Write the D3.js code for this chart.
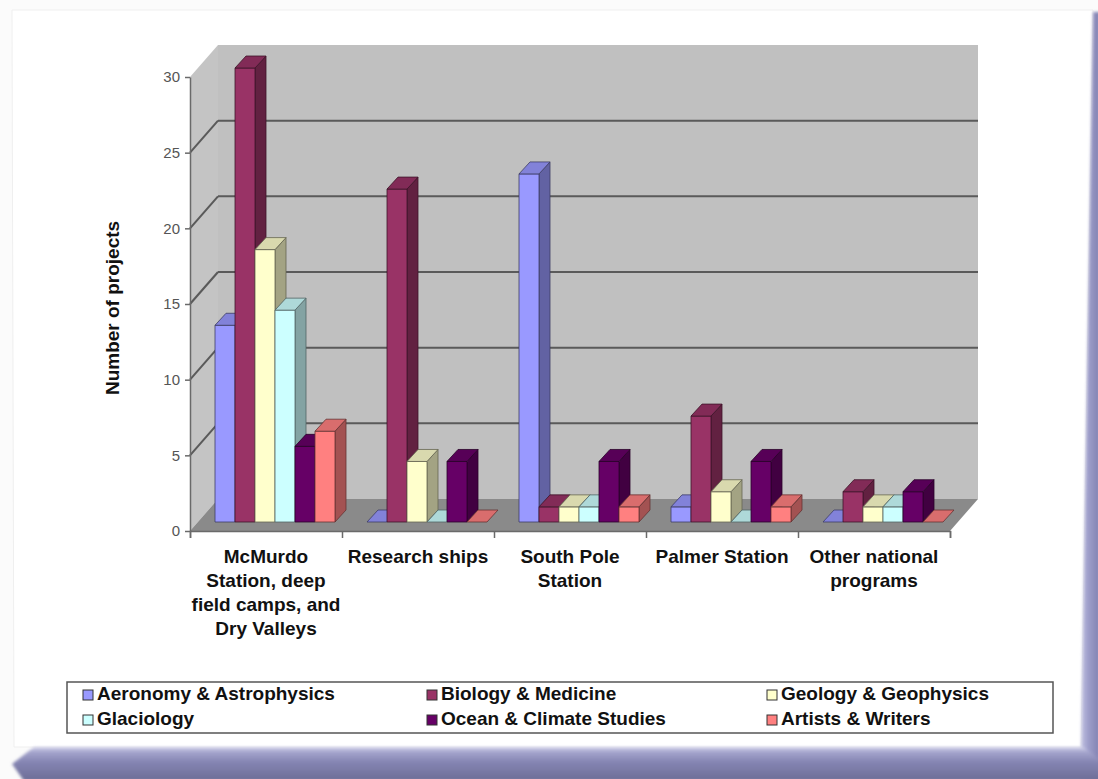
<!DOCTYPE html>
<html>
<head>
<meta charset="utf-8">
<script src="https://cdn.jsdelivr.net/npm/d3@7"></script>
<style>
  html, body { margin: 0; padding: 0; background: #ffffff; }
  svg { display: block; font-family: "Liberation Sans", Arial, sans-serif; }
</style>
</head>
<body>
<svg id="chart" width="1098" height="779"></svg>
<script>
// ---- data -------------------------------------------------------------
const categories = [
  ["McMurdo", "Station, deep", "field camps, and", "Dry Valleys"],
  ["Research ships"],
  ["South Pole", "Station"],
  ["Palmer Station"],
  ["Other national", "programs"]
];
const categoryKeys = ["McMurdo", "Research ships", "South Pole", "Palmer", "Other"];

const seriesNames = [
  "Aeronomy & Astrophysics",
  "Biology & Medicine",
  "Geology & Geophysics",
  "Glaciology",
  "Ocean & Climate Studies",
  "Artists & Writers"
];
const seriesColors = ["#9999FF", "#993366", "#FFFFCC", "#CCFFFF", "#660066", "#FF8080"];

const aeronomy   = [13, 0, 23, 1, 0];
const biology    = [30, 22, 1, 7, 2];
const geology    = [18, 4, 1, 2, 1];
const glaciology = [14, 0, 1, 0, 1];
const ocean      = [5, 4, 4, 4, 2];
const artists    = [6, 0, 1, 1, 0];
const seriesValues = [aeronomy, biology, geology, glaciology, ocean, artists];

const yTicks = [0, 5, 10, 15, 20, 25, 30];

// ---- layout -----------------------------------------------------------
const svg = d3.select("#chart");
const X0 = 190, X1 = 950, Y0 = 531, YT = 77;
const DX = 28, DY = -32;          // depth of the 3-D box
const FX = 8, FY = -9;            // bar front plane offset
const BDX = 11, BDY = -12;        // bar depth
const BAR_W = 20;
const FONT = 19;

const x = d3.scaleBand().domain(categoryKeys).range([X0, X1]).padding(0);
const inner = d3.scaleBand().domain(seriesNames).range([17, 17 + 6 * BAR_W]).padding(0);
const y = d3.scaleLinear().domain([0, 30]).range([Y0, YT]);

const defs = svg.append("defs");

// ---- card & shadow ----------------------------------------------------
const gB = defs.append("linearGradient").attr("id", "shB").attr("x1", 0).attr("y1", 0).attr("x2", 0).attr("y2", 1);
[[0, "#d4d4ec"], [0.15, "#a4a4cc"], [0.45, "#8484b2"], [1, "#6c6c96"]].forEach(([o, c]) =>
  gB.append("stop").attr("offset", o).attr("stop-color", c));
const gR = defs.append("linearGradient").attr("id", "shR").attr("x1", 0).attr("y1", 0).attr("x2", 1).attr("y2", 0);
[[0, "#d0d0ea"], [0.4, "#a0a0cc"], [1, "#8080b0"]].forEach(([o, c]) =>
  gR.append("stop").attr("offset", o).attr("stop-color", c));
defs.append("filter").attr("id", "soft").attr("x", "-5%").attr("y", "-20%").attr("width", "110%").attr("height", "140%")
  .append("feGaussianBlur").attr("stdDeviation", 1.4);

svg.append("rect").attr("x", 0).attr("y", 0).attr("width", 1098).attr("height", 779).attr("fill", "#fbfbfb");
svg.append("path").attr("d", "M12,10 L1093,10 L1081,747 L14,747 Z")
  .attr("fill", "#ffffff").attr("stroke", "#efefef").attr("stroke-width", 1);
svg.append("path").attr("d", "M1093,12 L1100,12 L1100,781 L1079,781 L1081,747 Z")
  .attr("fill", "url(#shR)").attr("filter", "url(#soft)");
svg.append("path").attr("d", "M34,747 L1083,747 L1100,760 L1100,781 L24,781 L12,764 Z")
  .attr("fill", "url(#shB)").attr("filter", "url(#soft)");

// ---- walls and floor --------------------------------------------------
const plot = svg.append("g");
plot.append("rect")
  .attr("x", X0 + DX).attr("y", y(30) + DY)
  .attr("width", X1 - X0).attr("height", y(0) - y(30))
  .attr("fill", "#c0c0c0");
plot.append("polygon")
  .attr("points", [[X0, y(30)], [X0 + DX, y(30) + DY], [X0 + DX, y(0) + DY], [X0, y(0)]].join(" "))
  .attr("fill", "#c4c4c4");
plot.append("polygon")
  .attr("points", [[X0, y(0)], [X1, y(0)], [X1 + DX, y(0) + DY], [X0 + DX, y(0) + DY]].join(" "))
  .attr("fill", "#8a8a8a");

const gridVals = yTicks.filter(v => v > 0 && v < 30);
plot.selectAll("line.gb").data(gridVals).join("line")
  .attr("x1", X0 + DX).attr("x2", X1 + DX)
  .attr("y1", d => y(d) + DY).attr("y2", d => y(d) + DY)
  .attr("stroke", "#5a5a5a").attr("stroke-width", 2);
plot.selectAll("line.gs").data(gridVals).join("line")
  .attr("x1", X0).attr("x2", X0 + DX)
  .attr("y1", d => y(d)).attr("y2", d => y(d) + DY)
  .attr("stroke", "#5a5a5a").attr("stroke-width", 2);

// ---- bars -------------------------------------------------------------
const bars = [];
categoryKeys.forEach((c, i) => {
  seriesNames.forEach((s, j) => bars.push({ c, s, j, v: seriesValues[j][i] }));
});

const barG = plot.append("g");
bars.forEach(d => {
  const col = d3.color(seriesColors[d.j]);
  const top = col.darker(0.45).formatHex();
  const side = col.darker(1.25).formatHex();
  const edge = col.darker(2.6).formatHex();
  const bx = x(d.c) + inner(d.s) + FX;
  const by0 = y(0) + FY;
  const byt = y(d.v) + FY;
  const g = barG.append("g").attr("stroke", edge).attr("stroke-width", 0.8).attr("stroke-linejoin", "round");
  if (d.v > 0) {
    g.append("polygon")
      .attr("points", [[bx + BAR_W, byt], [bx + BAR_W + BDX, byt + BDY], [bx + BAR_W + BDX, by0 + BDY], [bx + BAR_W, by0]].join(" "))
      .attr("fill", side);
    g.append("rect").attr("x", bx).attr("y", byt).attr("width", BAR_W).attr("height", by0 - byt)
      .attr("fill", col.formatHex());
  }
  g.append("polygon")
    .attr("points", [[bx, byt], [bx + BAR_W, byt], [bx + BAR_W + BDX, byt + BDY], [bx + BDX, byt + BDY]].join(" "))
    .attr("fill", top);
});

// ---- axes -------------------------------------------------------------
const yAxis = svg.append("g").attr("transform", `translate(${X0},0)`)
  .call(d3.axisLeft(y).tickValues(yTicks).tickSize(5).tickPadding(5).tickSizeOuter(0));
yAxis.select(".domain").attr("stroke", "#6a6a6a").attr("stroke-width", 1.5);
yAxis.selectAll(".tick line").attr("stroke", "#6a6a6a").attr("stroke-width", 1.5);
yAxis.selectAll(".tick text").attr("fill", "#555").attr("font-size", 15)
  .attr("font-family", "'Liberation Sans', Arial, sans-serif");

const xIdx = d3.scaleLinear().domain([0, categoryKeys.length]).range([X0, X1]);
const xAxis = svg.append("g").attr("transform", `translate(0,${Y0})`)
  .call(d3.axisBottom(xIdx).tickValues(d3.range(categoryKeys.length + 1)).tickSize(7).tickFormat(""));
xAxis.select(".domain").attr("stroke", "#6a6a6a").attr("stroke-width", 1.5);
xAxis.selectAll(".tick line").attr("stroke", "#6a6a6a").attr("stroke-width", 1.5);

// category labels
const catG = svg.append("g").attr("font-weight", "bold").attr("font-size", FONT).attr("fill", "#111");
categories.forEach((lines, i) => {
  const cx = x(categoryKeys[i]) + x.bandwidth() / 2;
  const t = catG.append("text").attr("text-anchor", "middle");
  lines.forEach((ln, k) => t.append("tspan").attr("x", cx).attr("y", 563 + k * 24).text(ln));
});

// y axis title
svg.append("text")
  .attr("transform", "translate(119,308) rotate(-90)")
  .attr("text-anchor", "middle")
  .attr("font-weight", "bold").attr("font-size", FONT).attr("fill", "#111")
  .text("Number of projects");

// ---- legend -----------------------------------------------------------
const legend = svg.append("g");
legend.append("rect").attr("x", 67).attr("y", 682).attr("width", 986).attr("height", 51)
  .attr("fill", "#ffffff").attr("stroke", "#555").attr("stroke-width", 1.5);
const colX = [83, 427, 767];
const rowY = [700, 725];
seriesNames.forEach((s, j) => {
  const lx = colX[j % 3], ly = rowY[Math.floor(j / 3)];
  legend.append("rect").attr("x", lx).attr("y", ly - 10).attr("width", 10).attr("height", 10)
    .attr("fill", seriesColors[j]).attr("stroke", "#333").attr("stroke-width", 1);
  legend.append("text").attr("x", lx + 14).attr("y", ly)
    .attr("font-weight", "bold").attr("font-size", FONT).attr("fill", "#111").text(s);
});
</script>
</body>
</html>
